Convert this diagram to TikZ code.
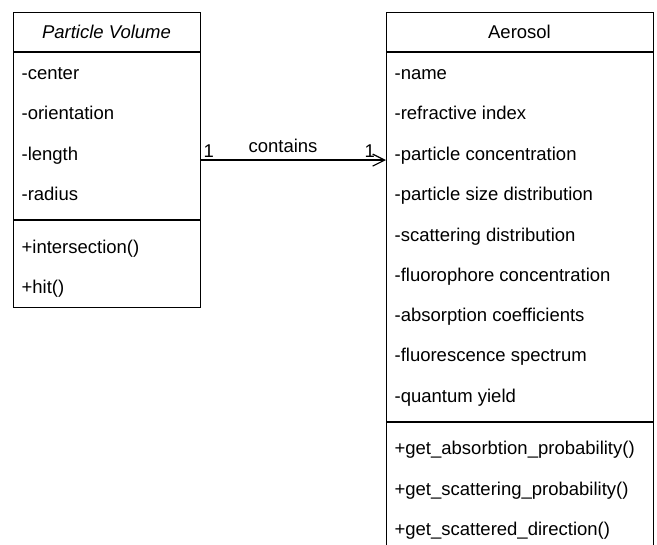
\documentclass[tikz,border=0pt]{standalone}
\usepackage{fontspec}
\setmainfont{Liberation Sans}
\usetikzlibrary{arrows.meta}
\begin{document}
\begin{tikzpicture}[x=1pt, y=-1pt, line width=1.2pt,
  txt/.style={inner sep=0pt, font=\fontsize{18.5}{20}\selectfont},
  member/.style={txt, anchor=base west},
  classbox/.style={draw, anchor=north west, inner sep=0pt},
  mult/.style={txt, anchor=base west}]
\useasboundingbox (0,0) rectangle (657,545);
\clip (-1,-1) rectangle (658,546);

% class Particle Volume
\node[classbox, minimum width=187pt, minimum height=295pt] (pv) at (13,12) {};
\draw (13,52) -- (200,52);
\draw (13,220) -- (200,220);
\node[txt, anchor=base, font=\fontsize{18.5}{20}\selectfont\itshape] (pvtitle) at (106.5,38.5) {Particle Volume};
\node[member] (pv1) at (21,80) {-center};
\node[member] (pv2) at (21,120) {-orientation};
\node[member] (pv3) at (21,161) {-length};
\node[member] (pv4) at (21,201) {-radius};
\node[member] (pv5) at (21,254) {+intersection()};
\node[member] (pv6) at (21,294) {+hit()};

% class Aerosol
\node[classbox, minimum width=267pt, minimum height=550pt] (aer) at (386,12) {};
\draw (386,52) -- (653,52);
\draw (386,422) -- (653,422);
\node[txt, anchor=base] (aertitle) at (519.5,38.5) {Aerosol};
\node[member] (a1) at (394,80) {-name};
\node[member] (a2) at (394,120) {-refractive index};
\node[member] (a3) at (394,161) {-particle concentration};
\node[member] (a4) at (394,201) {-particle size distribution};
\node[member] (a5) at (394,242) {-scattering distribution};
\node[member] (a6) at (394,282) {-fluorophore concentration};
\node[member] (a7) at (394,322) {-absorption coefficients};
\node[member] (a8) at (394,362) {-fluorescence spectrum};
\node[member] (a9) at (394,403) {-quantum yield};
\node[member] (a10) at (394,455) {+get\_absorbtion\_probability()};
\node[member] (a11) at (394,496) {+get\_scattering\_probability()};
\node[member] (a12) at (394,536) {+get\_scattered\_direction()};

% association
\coordinate (pvend) at (pv.east);
\coordinate (aerend) at (pv.east -| aer.west);
\draw[-{Straight Barb[length=12pt, width=12pt, line width=1.2pt]}] (pvend) -- (aerend);
\node[mult] (m1) at (203,158) {1};
\node[mult] (m2) at (364,158) {1};
\node[txt, anchor=base] (assoc) at (283,153) {contains};
\end{tikzpicture}
\end{document}
